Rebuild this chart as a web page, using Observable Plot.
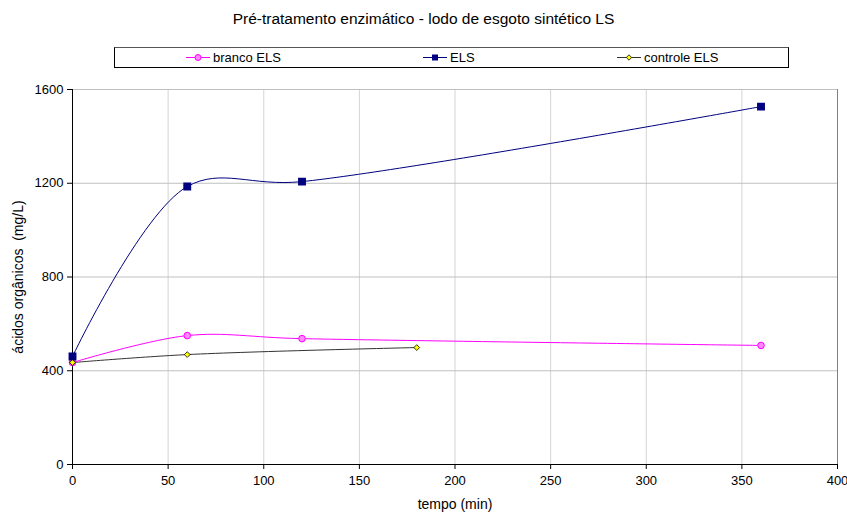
<!DOCTYPE html>
<html>
<head>
<meta charset="utf-8">
<script src="https://cdn.jsdelivr.net/npm/d3@7"></script>
<script src="https://cdn.jsdelivr.net/npm/@observablehq/plot@0.6"></script>
<style>
  body { margin: 0; background: #fff; font-family: "Liberation Sans", Arial, sans-serif; }
  #wrap { position: relative; width: 847px; height: 512px; overflow: hidden; }
  #title { position: absolute; left: 0; width: 847px; top: 10px; text-align: center; font-size: 15.5px; color: #000; }
  #legend { position: absolute; left: 114px; top: 47px; width: 675px; height: 21px; border: 1px solid #000; border-top-color: #555; box-sizing: border-box; font-size: 13px; }
  .item { position: absolute; top: 1px; height: 17px; line-height: 17px; display: flex; align-items: center; }
  .item svg { margin-right: 3px; }
</style>
</head>
<body>
<div id="wrap">
  <div id="chart"></div>
  <div id="title">Pré-tratamento enzimático - lodo de esgoto sintético LS</div>
  <div id="legend"></div>
</div>
<script>
// measurement times (min) and organic acid concentrations (mg/L)
const seriesNames = ["branco ELS", "ELS", "controle ELS"];
const brancoTime = [0, 60, 120, 360];
const brancoValues = [435, 550, 537, 508];
const elsTime = [0, 60, 120, 360];
const elsValues = [461, 1186, 1207, 1527];
const controleTime = [0, 60, 180];
const controleValues = [435, 469, 499];
const xTicks = [0, 50, 100, 150, 200, 250, 300, 350, 400];
const yTicks = [0, 400, 800, 1200, 1600];

const toRows = (t, v) => t.map((x, i) => ({x, y: v[i]}));
const branco = toRows(brancoTime, brancoValues);
const els = toRows(elsTime, elsValues);
const controle = toRows(controleTime, controleValues);

const chart = Plot.plot({
  width: 847,
  height: 512,
  marginTop: 89,
  marginLeft: 72,
  marginRight: 10,
  marginBottom: 48,
  style: {fontFamily: "'Liberation Sans', Arial, sans-serif", fontSize: "13px", color: "#000", background: "#fff", overflow: "visible"},
  x: {domain: [0, 400], ticks: xTicks, label: null},
  y: {domain: [0, 1600], ticks: yTicks, label: null},
  marks: [
    Plot.gridX(xTicks.slice(1), {stroke: "#d4d4d4", strokeOpacity: 1}),
    Plot.gridY(yTicks.slice(1), {stroke: "#c0c0c0", strokeOpacity: 1}),
    Plot.frame({anchor: "top", stroke: "#c0c0c0"}),
    Plot.frame({anchor: "right", stroke: "#808080"}),
    Plot.axisX({ticks: xTicks, tickSize: 5, tickPadding: 6, tickFormat: "d", label: null, fontSize: 13}),
    Plot.axisY({ticks: yTicks, tickSize: 5, tickPadding: 4, tickFormat: "d", label: null, fontSize: 13}),
    Plot.ruleX([0], {stroke: "#000"}),
    Plot.ruleY([0], {stroke: "#000"}),
    Plot.line(controle, {x: "x", y: "y", stroke: "#333", strokeWidth: 1, curve: "catmull-rom"}),
    Plot.line(branco, {x: "x", y: "y", stroke: "#ff00ff", strokeWidth: 1, curve: "catmull-rom"}),
    Plot.line(els, {x: "x", y: "y", stroke: "#000080", strokeWidth: 1, curve: "catmull-rom"}),
    Plot.dot(branco, {x: "x", y: "y", r: 3.3, fill: "#ff88ff", stroke: "#ff00ff", strokeWidth: 1}),
    Plot.dot(els, {x: "x", y: "y", symbol: "square", r: 3.6, fill: "#000080", stroke: "#000080"}),
    Plot.dot(controle, {x: "x", y: "y", symbol: "diamond2", r: 2.6, fill: "#ffff00", stroke: "#000", strokeWidth: 0.8}),
    Plot.text(["tempo (min)"], {frameAnchor: "bottom", lineAnchor: "top", dy: 35, fontSize: 14}),
    Plot.text(["ácidos orgânicos  (mg/L)"], {frameAnchor: "left", textAnchor: "middle", dx: -54, rotate: -90, fontSize: 14})
  ]
});
document.getElementById("chart").appendChild(chart);

// legend entries: line sample with marker, then name
const legend = d3.select("#legend");
const legendItems = [
  {name: seriesNames[0], left: 71, stroke: "#ff00ff", marker: "circle"},
  {name: seriesNames[1], left: 308, stroke: "#000080", marker: "square"},
  {name: seriesNames[2], left: 502, stroke: "#333", marker: "diamond"}
];
for (const it of legendItems) {
  const div = legend.append("div").attr("class", "item").style("left", it.left + "px");
  const s = div.append("svg").attr("width", 24).attr("height", 15);
  s.append("line").attr("x1", 0).attr("x2", 24).attr("y1", 7.5).attr("y2", 7.5).attr("stroke", it.stroke);
  if (it.marker === "circle") s.append("circle").attr("cx", 12).attr("cy", 7.5).attr("r", 3).attr("fill", "#ff88ff").attr("stroke", "#ff00ff");
  if (it.marker === "square") s.append("rect").attr("x", 9).attr("y", 4.5).attr("width", 6).attr("height", 6).attr("fill", "#000080");
  if (it.marker === "diamond") s.append("path").attr("d", "M12,4.8 L14.7,7.5 L12,10.2 L9.3,7.5 Z").attr("fill", "#ffff00").attr("stroke", "#000").attr("stroke-width", 0.8);
  div.append("span").text(it.name);
}
</script>
</body>
</html>
